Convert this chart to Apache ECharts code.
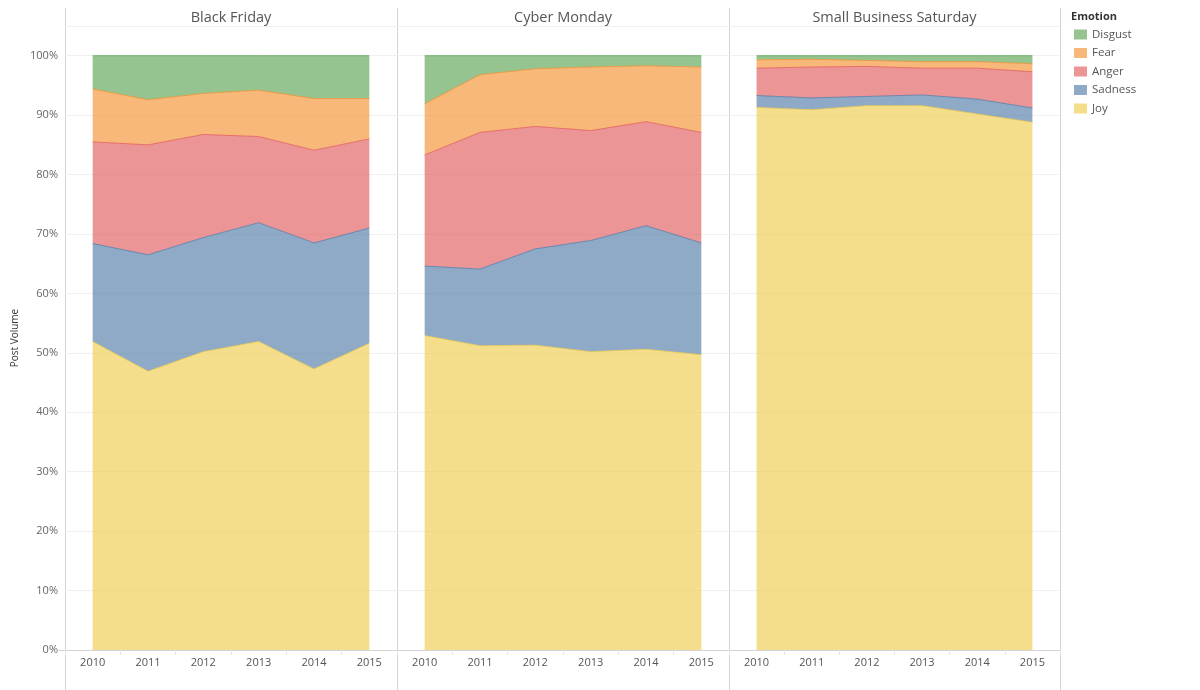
<!DOCTYPE html>
<html>
<head>
<meta charset="utf-8">
<script src="https://cdn.jsdelivr.net/npm/echarts@6/dist/echarts.min.js"></script>
<style>html,body{margin:0;padding:0;background:#fff}#c{width:1200px;height:690px}</style>
</head>
<body>
<div id="c"></div>
<script>
const years = ['2010', '2011', '2012', '2013', '2014', '2015'];
const panels = ['Black Friday', 'Cyber Monday', 'Small Business Saturday'];
const emotions = ['Joy', 'Sadness', 'Anger', 'Fear', 'Disgust'];
const legendOrder = ['Disgust', 'Fear', 'Anger', 'Sadness', 'Joy'];
const yTicks = [0, 10, 20, 30, 40, 50, 60, 70, 80, 90, 100];

// Black Friday (% of post volume)
const bfJoy     = [51.9, 46.9, 50.2, 51.9, 47.3, 51.6];
const bfSadness = [16.5, 19.6, 19.2, 20.0, 21.2, 19.4];
const bfAnger   = [17.1, 18.5, 17.35, 14.5, 15.6, 15.0];
const bfFear    = [8.9, 7.6, 6.9, 7.8, 8.7, 6.8];
const bfDisgust = [5.6, 7.4, 6.35, 5.8, 7.2, 7.2];

// Cyber Monday
const cmJoy     = [52.9, 51.2, 51.3, 50.2, 50.6, 49.7];
const cmSadness = [11.7, 12.9, 16.2, 18.7, 20.8, 18.8];
const cmAnger   = [18.7, 23.0, 20.6, 18.5, 17.5, 18.6];
const cmFear    = [8.6, 9.7, 9.7, 10.7, 9.4, 11.0];
const cmDisgust = [8.1, 3.2, 2.2, 1.9, 1.7, 1.9];

// Small Business Saturday
const sbJoy     = [91.3, 90.9, 91.6, 91.6, 90.2, 88.8];
const sbSadness = [2.0, 2.0, 1.55, 1.8, 2.5, 2.4];
const sbAnger   = [4.6, 5.2, 5.05, 4.5, 5.2, 6.1];
const sbFear    = [1.4, 1.3, 1.0, 1.1, 1.1, 1.35];
const sbDisgust = [0.7, 0.6, 0.8, 1.0, 1.0, 1.35];

const panelData = [
  {Joy: bfJoy, Sadness: bfSadness, Anger: bfAnger, Fear: bfFear, Disgust: bfDisgust},
  {Joy: cmJoy, Sadness: cmSadness, Anger: cmAnger, Fear: cmFear, Disgust: cmDisgust},
  {Joy: sbJoy, Sadness: sbSadness, Anger: sbAnger, Fear: sbFear, Disgust: sbDisgust}
];

const colors = {Joy: '#edc948', Sadness: '#4e79a7', Anger: '#e15759', Fear: '#f28e2b', Disgust: '#59a14f'};
const AREA_OP = 0.63;
const FONT = '"Open Sans", "DejaVu Sans", sans-serif';

const gridLefts = [65, 397, 729];
const gridWidths = [332, 332, 331];
const gridTop = 26, gridBottomY = 650;

const grids = [], xAxes = [], yAxes = [], series = [], titles = [];
panels.forEach((p, i) => {
  grids.push({left: gridLefts[i], top: gridTop, width: gridWidths[i], height: gridBottomY - gridTop, containLabel: false});
  xAxes.push({
    type: 'category', gridIndex: i, data: years, boundaryGap: true,
    axisLine: {show: true, lineStyle: {color: '#d4d4d4', width: 1}},
    axisTick: {show: true, interval: 0, length: 5, lineStyle: {color: '#e6e6e6'}},
    axisLabel: {color: '#555', fontSize: 11, fontFamily: FONT, margin: 7, interval: 0}
  });
  yAxes.push({
    type: 'value', gridIndex: i, min: 0, max: 105, interval: 10,
    axisLine: {show: false}, axisTick: {show: false},
    axisLabel: {show: i === 0, showMaxLabel: false, color: '#666', fontSize: 11, fontFamily: FONT, margin: 7,
      formatter: v => (yTicks.indexOf(v) >= 0 ? v + '%' : '')},
    splitLine: {show: true, lineStyle: {color: '#f0f0f0', width: 1}}
  });
  titles.push({
    text: p, left: gridLefts[i] + gridWidths[i] / 2, top: 10, textAlign: 'center', padding: 0,
    textStyle: {fontSize: 14.5, fontWeight: 'normal', color: '#555', fontFamily: FONT}
  });
  emotions.forEach(e => {
    series.push({
      name: e, type: 'line', xAxisIndex: i, yAxisIndex: i, stack: 'p' + i,
      data: panelData[i][e], showSymbol: false, symbol: 'none', smooth: false,
      itemStyle: {color: colors[e], opacity: AREA_OP},
      lineStyle: {color: colors[e], width: 1, opacity: 0.75},
      areaStyle: {color: colors[e], opacity: AREA_OP},
      emphasis: {disabled: true},
      animation: false
    });
  });
});

titles.push({
  text: 'Emotion', left: 1071, top: 11, padding: 0,
  textStyle: {fontSize: 11, fontWeight: 'bold', color: '#333', fontFamily: FONT}
});

const vLine = x => ({type: 'line', shape: {x1: x + 0.5, y1: 8, x2: x + 0.5, y2: 690}, style: {stroke: '#d4d4d4', lineWidth: 1}, silent: true});

const option = {
  animation: false,
  backgroundColor: '#fff',
  title: titles,
  grid: grids,
  xAxis: xAxes,
  yAxis: yAxes,
  legend: {
    orient: 'vertical', left: 1074, top: 28, padding: 0, icon: 'rect', itemWidth: 13, itemHeight: 10, itemGap: 5.5, itemTextGap: 5,
    selectedMode: false,
    textStyle: {fontSize: 11.5, color: '#555', fontFamily: FONT, lineHeight: 13},
    data: legendOrder.map(e => ({name: e, itemStyle: {color: colors[e], opacity: AREA_OP}}))
  },
  graphic: [
    vLine(65), vLine(397), vLine(729), vLine(1060),
    {type: 'line', shape: {x1: 65, y1: 26.5, x2: 1060, y2: 26.5}, style: {stroke: '#d4d4d4', lineWidth: 1}, silent: true},
    {type: 'line', shape: {x1: 59, y1: 650.5, x2: 65, y2: 650.5}, style: {stroke: '#d4d4d4', lineWidth: 1}, silent: true},
    {type: 'text', x: 15, y: 338, rotation: Math.PI / 2,
      style: {text: 'Post Volume', fill: '#333', fontSize: 10, fontFamily: FONT, textAlign: 'center', textVerticalAlign: 'middle'}}
  ],
  series: series
};

const chart = echarts.init(document.getElementById('c'), null, {renderer: 'canvas'});
chart.setOption(option);
</script>
</body>
</html>
